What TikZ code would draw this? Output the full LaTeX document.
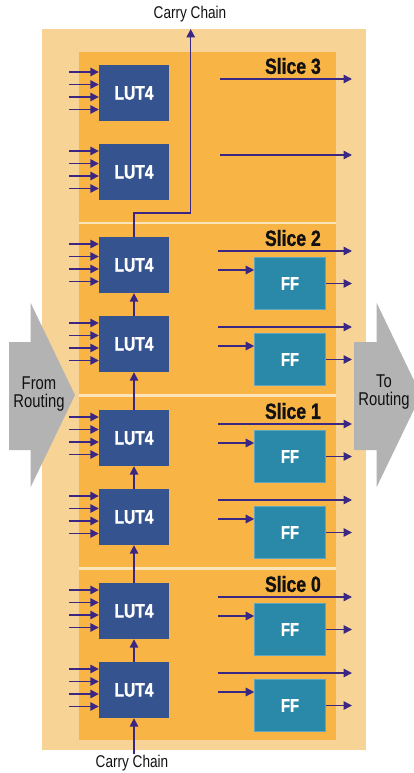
\documentclass[tikz,border=0pt]{standalone}
\usepackage{fontspec}
\setmainfont{Liberation Sans}
\newfontfamily\cond{Liberation Sans}[FakeStretch=0.8]
\newfontfamily\condb{Liberation Sans}[FakeStretch=0.8, BoldFeatures={FakeBold=1.2}]
\usetikzlibrary{arrows.meta}
\definecolor{outerc}{HTML}{F8D396}
\definecolor{slicec}{HTML}{F8B445}
\definecolor{sepc}{HTML}{FCE4B8}
\definecolor{lutc}{HTML}{34538F}
\definecolor{ffc}{HTML}{2A88A8}
\definecolor{wirec}{HTML}{3A2783}
\definecolor{greyc}{HTML}{B3B3B3}
\definecolor{labelc}{HTML}{111111}
\begin{document}
\begin{tikzpicture}[x=1pt,y=-1pt,
  lutbox/.style={fill=lutc, minimum width=70pt, minimum height=56pt, inner sep=0pt, text=white,
    font=\condb\bfseries\fontsize{19.5}{19.5}\selectfont},
  ffbox/.style={fill=ffc, draw=ffc!75!white, line width=0.6pt, minimum width=71pt, minimum height=52pt,
    inner sep=0pt, text=white, font=\condb\bfseries\fontsize{18.5}{18.5}\selectfont},
  wire/.style={draw=wirec, line width=1.5pt, -{Triangle[length=8.5pt,width=8.5pt]}},
  slicelabel/.style={font=\condb\bfseries\fontsize{22}{22}\selectfont, text=labelc, anchor=east, inner sep=0pt},
  plainlabel/.style={font=\cond\fontsize{17}{17}\selectfont, text=labelc, inner sep=0pt},
  routelabel/.style={font=\cond\fontsize{18.5}{18}\selectfont, text=labelc, inner sep=0pt, align=center},
  slicebox/.style={fill=slicec, draw=none},
  bigarrow/.style={fill=greyc, draw=none}]
\useasboundingbox (0,0) rectangle (414,773);
% outer area
\fill[outerc] (42,29) rectangle (366,750);
% slices
\foreach \t/\b in {52/222,224/394,397/567,570/740}{
  \fill[slicebox] (79,\t) rectangle (336,\b);
}
\foreach \a/\b in {222/224,394/397,567/570}{
  \fill[sepc] (79,\a) rectangle (336,\b);
}
% grey routing arrows
\fill[bigarrow] (9,342) -- (30.7,342) -- (30.7,303) -- (75,395) -- (30.7,487) -- (30.7,450) -- (9,450) -- cycle;
\fill[bigarrow] (354,342) -- (376.7,342) -- (376.7,303) -- (421,395) -- (376.7,487) -- (376.7,450) -- (354,450) -- cycle;
\node[routelabel] (from) at (39,394) {From\\Routing};
\node[routelabel] (to) at (384,392) {To\\Routing};
% slices content
\foreach \s/\t in {3/52,2/224,1/397,0/570}{
  \node[lutbox] (la\s) at (134,\t+41) {LUT4};
  \node[lutbox] (lb\s) at (134,\t+120) {LUT4};
  \node[slicelabel] (sl\s) at (321,\t+14) {Slice \s};
  \foreach \d [count=\i] in {7,19.5,32,44.5}{
    \coordinate (ina\s\i) at (69,\t+13+\d);
    \draw[wire] (ina\s\i) -- (ina\s\i -| la\s.west);
    \coordinate (inb\s\i) at (69,\t+92+\d);
    \draw[wire] (inb\s\i) -- (inb\s\i -| lb\s.west);
  }
}
% slice 3 outputs
\coordinate (o3a) at (220,79);
\coordinate (e3a) at (352,79);
\draw[wire] (o3a) -- (e3a);
\coordinate (o3b) at (220,155);
\coordinate (e3b) at (352,155);
\draw[wire] (o3b) -- (e3b);
% slices 2..0 outputs with flip-flops
\foreach \s/\t in {2/224,1/397,0/570}{
  \node[ffbox] (fa\s) at (290,\t+59.5) {FF};
  \node[ffbox] (fb\s) at (290,\t+135.5) {FF};
  \coordinate (oa\s) at (218,\t+27);
  \coordinate (ea\s) at (352,\t+27);
  \draw[wire] (oa\s) -- (ea\s);
  \coordinate (ob\s) at (218,\t+103);
  \coordinate (eb\s) at (352,\t+103);
  \draw[wire] (ob\s) -- (eb\s);
  \coordinate (ia\s) at (218,\t+46);
  \draw[wire] (ia\s) -- (ia\s -| fa\s.west);
  \coordinate (ib\s) at (218,\t+122);
  \draw[wire] (ib\s) -- (ib\s -| fb\s.west);
  \coordinate (qa\s) at (352,\t+59.5);
  \draw[wire] (fa\s.east) -- (qa\s);
  \coordinate (qb\s) at (352,\t+135.5);
  \draw[wire] (fb\s.east) -- (qb\s);
}
% carry chain
\node[plainlabel] (cctop) at (190,14) {Carry Chain};
\node[plainlabel] (ccbot) at (132,763) {Carry Chain};
\coordinate (cbot) at (134,754);
\coordinate (ctop) at (190.7,29);
\draw[wire] (cbot) -- (lb0.south);
\draw[wire] (lb0.north) -- (la0.south);
\draw[wire] (la0.north) -- (lb1.south);
\draw[wire] (lb1.north) -- (la1.south);
\draw[wire] (la1.north) -- (lb2.south);
\draw[wire] (lb2.north) -- (la2.south);
\draw[wire] (la2.north) -- (la2.north |- 0,213) -- (ctop |- 0,213) -- (ctop);
\end{tikzpicture}
\end{document}
